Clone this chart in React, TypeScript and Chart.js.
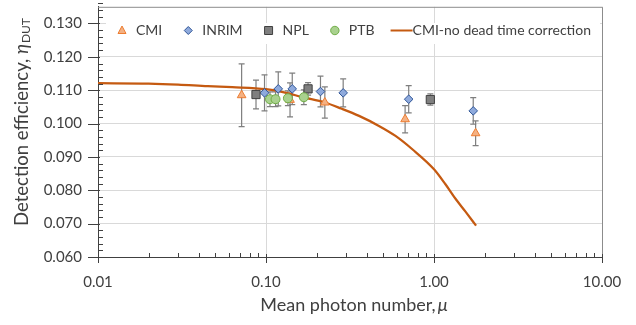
import React, { useEffect, useRef } from 'react';
import { Chart, registerables } from 'chart.js';
Chart.register(...registerables);

// ---- data ----
const cmiMu = [0.0716, 0.139, 0.224, 0.673, 1.769];
const cmiEff = [0.1085, 0.1071, 0.1063, 0.1013, 0.0971];
const cmiErr = [0.0094, 0.0051, 0.0047, 0.0041, 0.0037];

const inrimMu = [0.098, 0.1183, 0.1433, 0.211, 0.288, 0.707, 1.712];
const inrimEff = [0.1092, 0.1104, 0.1104, 0.1096, 0.1092, 0.1073, 0.1038];
const inrimErr = [0.0054, 0.0051, 0.0047, 0.0046, 0.0042, 0.0041, 0.004];

const nplMu = [0.0872, 0.178, 0.951];
const nplEff = [0.1087, 0.1104, 0.1072];
const nplErr = [0.0043, 0.0019, 0.0017];

const ptbMu = [0.1056, 0.114, 0.135, 0.168];
const ptbEff = [0.1073, 0.1073, 0.1076, 0.1079];
const ptbErr = [0.0022, 0.0022, 0.0022, 0.0022];

const curveMu = [0.01, 0.02, 0.03, 0.045, 0.063, 0.1, 0.13, 0.165, 0.224, 0.28, 0.358, 0.47, 0.59, 0.743, 1.0, 1.17, 1.35, 1.54, 1.78];
const curveEff = [0.1121, 0.112, 0.1117, 0.1112, 0.1109, 0.1103, 0.1093, 0.1079, 0.1063, 0.1045, 0.1023, 0.0993, 0.0963, 0.0923, 0.0863, 0.0818, 0.0773, 0.0736, 0.0694];

const xTickValues = [0.01, 0.1, 1, 10];
const yTickValues = [0.06, 0.07, 0.08, 0.09, 0.1, 0.11, 0.12, 0.13];
const yMin = 0.06;
const yMax = 0.135;
const yMinorStep = 0.002;

const seriesLabels = ['CMI', 'INRIM', 'NPL', 'PTB', 'CMI-no dead time correction'];
const xTitle = 'Mean photon number,';
const xTitleSymbol = 'μ';
const yTitle = 'Detection efficiency, ';
const yTitleSymbol = 'η';
const yTitleSub = 'DUT';

const FONT = 'Lato, "Open Sans", sans-serif';
const TEXT = '#404040';

type Series = { label: string; mu: number[]; eff: number[]; err: number[]; style: string; radius: number; bg: string; border: string };

const series: Series[] = [
  { label: seriesLabels[3], mu: ptbMu, eff: ptbEff, err: ptbErr, style: 'circle', radius: 4.5, bg: '#A9D18E', border: '#70AD47' },
  { label: seriesLabels[2], mu: nplMu, eff: nplEff, err: nplErr, style: 'rect', radius: 5.8, bg: '#7F7F7F', border: '#404040' },
  { label: seriesLabels[1], mu: inrimMu, eff: inrimEff, err: inrimErr, style: 'rectRot', radius: 4.3, bg: '#8FAADC', border: '#2F5597' },
  { label: seriesLabels[0], mu: cmiMu, eff: cmiEff, err: cmiErr, style: 'triangle', radius: 5, bg: '#F4B183', border: '#ED7D31' },
];

function drawMarker(ctx: CanvasRenderingContext2D, style: string, x: number, y: number, bg: string, border: string) {
  ctx.save();
  ctx.fillStyle = bg;
  ctx.strokeStyle = border;
  ctx.lineWidth = 1;
  ctx.beginPath();
  if (style === 'triangle') {
    ctx.moveTo(x, y - 4.5);
    ctx.lineTo(x + 4, y + 3);
    ctx.lineTo(x - 4, y + 3);
    ctx.closePath();
  } else if (style === 'rectRot') {
    ctx.moveTo(x, y - 4);
    ctx.lineTo(x + 4, y);
    ctx.lineTo(x, y + 4);
    ctx.lineTo(x - 4, y);
    ctx.closePath();
  } else if (style === 'rect') {
    ctx.rect(x - 4, y - 4, 8, 8);
  } else if (style === 'circle') {
    ctx.arc(x, y, 4.2, 0, Math.PI * 2);
  }
  ctx.fill();
  ctx.stroke();
  ctx.restore();
}

const deco = {
  id: 'deco',
  beforeDatasetsDraw(chart: any) {
    const { ctx, scales } = chart;
    const xs = scales.x, ys = scales.y;
    ctx.save();
    ctx.strokeStyle = '#7F7F7F';
    ctx.lineWidth = 1.2;
    series.forEach((s) => {
      s.mu.forEach((m, i) => {
        const px = xs.getPixelForValue(m);
        const top = ys.getPixelForValue(s.eff[i] + s.err[i]);
        const bot = ys.getPixelForValue(s.eff[i] - s.err[i]);
        ctx.beginPath();
        ctx.moveTo(px, top); ctx.lineTo(px, bot);
        ctx.moveTo(px - 3, top); ctx.lineTo(px + 3, top);
        ctx.moveTo(px - 3, bot); ctx.lineTo(px + 3, bot);
        ctx.stroke();
      });
    });
    ctx.restore();
  },
  afterDraw(chart: any) {
    const { ctx, chartArea: a, scales } = chart;
    const xs = scales.x, ys = scales.y;
    ctx.save();
    // top/right border of plot area
    ctx.strokeStyle = '#8C8C8C';
    ctx.lineWidth = 1;
    ctx.beginPath();
    ctx.moveTo(a.left, a.top + 0.5); ctx.lineTo(a.right + 0.5, a.top + 0.5); ctx.lineTo(a.right + 0.5, a.bottom);
    ctx.stroke();

    // tick marks
    ctx.strokeStyle = '#404040';
    ctx.beginPath();
    const nMinor = Math.round((yMax - yMin) / yMinorStep);
    for (let k = 0; k <= nMinor; k++) {
      const v = yMin + k * yMinorStep;
      const py = Math.round(ys.getPixelForValue(v)) + 0.5;
      const isMajor = yTickValues.some((t) => Math.abs(t - v) < 1e-6);
      if (isMajor) { ctx.moveTo(a.left - 10, py); ctx.lineTo(a.left + 2, py); }
      else { ctx.moveTo(a.left, py); ctx.lineTo(a.left + 5, py); }
    }
    for (let d = -2; d <= 0; d++) {
      for (let m = 2; m <= 9; m++) {
        const px = Math.round(xs.getPixelForValue(m * Math.pow(10, d))) + 0.5;
        ctx.moveTo(px, a.bottom); ctx.lineTo(px, a.bottom - 4);
      }
    }
    xTickValues.forEach((v) => {
      const px = Math.round(xs.getPixelForValue(v)) + 0.5;
      ctx.moveTo(px, a.bottom - 3); ctx.lineTo(px, a.bottom + 6);
    });
    ctx.stroke();

    // legend
    ctx.fillStyle = '#FFFFFF';
    ctx.fillRect(a.left + 8, 23, a.right - a.left - 10, 21);
    ctx.font = `14px ${FONT}`;
    ctx.textBaseline = 'middle';
    ctx.textAlign = 'left';
    const ly = 30.5;
    let lx = a.left + 24;
    const legendOrder = [3, 2, 1, 0];
    legendOrder.forEach((si) => {
      const s = series[si];
      drawMarker(ctx, s.style, lx, ly, s.bg, s.border);
      ctx.fillStyle = TEXT;
      ctx.fillText(s.label, lx + 14, ly);
      lx += 14 + ctx.measureText(s.label).width + 26;
    });
    lx -= 10;
    ctx.strokeStyle = '#C55A11';
    ctx.lineWidth = 2;
    ctx.beginPath();
    ctx.moveTo(lx, ly); ctx.lineTo(lx + 22, ly);
    ctx.stroke();
    ctx.fillStyle = TEXT;
    ctx.fillText(seriesLabels[4], lx + 22, ly);

    // x title
    ctx.font = `18px ${FONT}`;
    const w1 = ctx.measureText(xTitle).width;
    ctx.font = `italic 18px ${FONT}`;
    const w2 = ctx.measureText(xTitleSymbol).width;
    const cx = (a.left + a.right) / 2 + 4;
    const tx = cx - (w1 + w2 + 2) / 2;
    ctx.fillStyle = TEXT;
    ctx.font = `18px ${FONT}`;
    ctx.fillText(xTitle, tx, 305);
    ctx.font = `italic 18px ${FONT}`;
    ctx.fillText(xTitleSymbol, tx + w1 + 2, 305);

    // y title
    ctx.save();
    ctx.translate(22, 122);
    ctx.rotate(-Math.PI / 2);
    ctx.font = `18.5px ${FONT}`;
    const v1 = ctx.measureText(yTitle).width;
    ctx.font = `italic 18.5px ${FONT}`;
    const v2 = ctx.measureText(yTitleSymbol).width;
    ctx.font = `12px ${FONT}`;
    const v3 = ctx.measureText(yTitleSub).width;
    const sx = -(v1 + v2 + v3 + 1) / 2;
    ctx.font = `18.5px ${FONT}`;
    ctx.fillText(yTitle, sx, 0);
    ctx.font = `italic 18.5px ${FONT}`;
    ctx.fillText(yTitleSymbol, sx + v1, 0);
    ctx.font = `12px ${FONT}`;
    ctx.fillText(yTitleSub, sx + v1 + v2 + 1, 4);
    ctx.restore();

    ctx.restore();
  },
};

export default function App() {
  const ref = useRef<HTMLCanvasElement>(null);
  useEffect(() => {
    document.body.style.margin = '0';
    const canvas = ref.current;
    if (!canvas) return;
    const toPts = (xs: number[], ys: number[]) => xs.map((x, i) => ({ x, y: ys[i] }));
    const datasets: any[] = series.map((s) => ({
      label: s.label,
      data: toPts(s.mu, s.eff),
      pointStyle: s.style,
      pointRadius: s.radius,
      pointBackgroundColor: s.bg,
      pointBorderColor: s.border,
      pointBorderWidth: 1,
      showLine: false,
    }));
    datasets.push({
      label: seriesLabels[4],
      data: toPts(curveMu, curveEff),
      showLine: true,
      borderColor: '#C55A11',
      borderWidth: 2.25,
      pointRadius: 0,
      cubicInterpolationMode: 'monotone',
      fill: false,
    });
    const chart = new Chart(canvas, {
      type: 'scatter',
      data: { datasets },
      plugins: [deco],
      options: {
        animation: false,
        responsive: false,
        events: [],
        layout: { padding: { left: 0, top: 5, right: 34, bottom: 0 } },
        plugins: { legend: { display: false }, tooltip: { enabled: false } },
        scales: {
          x: {
            type: 'logarithmic',
            min: 0.01,
            max: 10,
            afterBuildTicks: (s: any) => { s.ticks = xTickValues.map((v) => ({ value: v })); },
            afterFit: (s: any) => { s.height = 68; s.paddingLeft = 0; s.paddingRight = 0; },
            ticks: {
              callback: (v: any) => Number(v).toFixed(2),
              font: { family: FONT, size: 15 },
              color: TEXT,
              padding: 16,
              maxRotation: 0,
              autoSkip: false,
            },
            grid: { color: '#D9D9D9', drawTicks: false, lineWidth: 1 },
            border: { color: '#404040', width: 1 },
          },
          y: {
            type: 'linear',
            min: yMin,
            max: yMax,
            afterBuildTicks: (s: any) => { s.ticks = yTickValues.map((v) => ({ value: v })); },
            afterFit: (s: any) => { s.width = 98; s.paddingTop = 0; s.paddingBottom = 0; },
            ticks: {
              callback: (v: any) => Number(v).toFixed(3),
              font: { family: FONT, size: 15 },
              color: TEXT,
              padding: 16,
            },
            grid: { color: '#D9D9D9', drawTicks: false, lineWidth: 1 },
            border: { color: '#404040', width: 1 },
          },
        },
      } as any,
    });
    return () => chart.destroy();
  }, []);
  return (
    <div style={{ width: 636, height: 325 }}>
      <canvas ref={ref} width={636} height={325} style={{ display: 'block' }} />
    </div>
  );
}
